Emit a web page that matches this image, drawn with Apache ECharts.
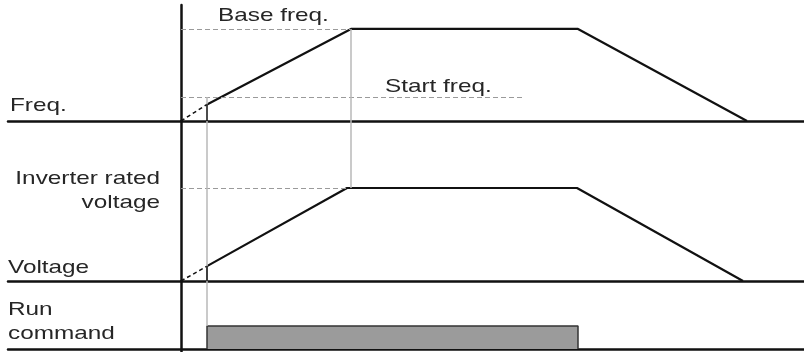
<!DOCTYPE html>
<html>
<head>
<meta charset="utf-8">
<script src="https://cdn.jsdelivr.net/npm/echarts@6/dist/echarts.min.js"></script>
<style>html,body{margin:0;padding:0;background:#fff}#c{width:804px;height:352px}</style>
</head>
<body>
<div id="c"></div>
<script>
// ---- data (time units along the shared horizontal axis) ----
const freqTime = [0, 26, 170, 397, 566];
const freqValue = [0, 18, 100, 100, 0];
const voltTime = [0, 26, 166, 396, 562];
const voltValue = [0, 16, 100, 100, 0];
const runStart = 26;
const runEnd = 397;
const runLevel = 1;
const baseFreqLevel = 100;
const baseFreqEnd = 169;
const startFreqLevel = 26;
const startFreqEnd = 342;
const ratedVoltLevel = 100;
const ratedVoltEnd = 166;
const labels = {
  freq: 'Freq.', base: 'Base freq.', start: 'Start freq.',
  rated1: 'Inverter rated', rated2: 'voltage', volt: 'Voltage',
  run1: 'Run', run2: 'command'
};

const pts = (t, v) => t.map((x, i) => [x, v[i]]);
const freqPts = pts(freqTime, freqValue);
const voltPts = pts(voltTime, voltValue);
const runPts = [[runStart, 0], [runStart, runLevel], [runEnd, runLevel], [runEnd, 0]];

const BLACK = '#111';
const GRAY = '#b8b8b8';
const dashStyle = { color: '#9a9a9a', width: 1, type: [5, 3] };
const grayStyle = { color: GRAY, width: 1.5, type: 'solid' };
const tickStyle = { color: BLACK, width: 1.5, type: 'solid' };

function seg(a, b, style) {
  return [{ coord: a, lineStyle: style }, { coord: b }];
}
function ml(data) {
  return { silent: true, symbol: ['none', 'none'], label: { show: false }, animation: false, data: data };
}

const xMin = -173, xMax = 623;
const grids = [
  { left: 8, right: 0, top: 5, height: 116 },
  { left: 8, right: 0, top: 121, height: 160 },
  { left: 8, right: 0, top: 281, height: 71 }
];
const yRanges = [[0, 126], [0, 172], [-0.13, 2.96]];

const axisLine = { show: true, onZero: true, lineStyle: { color: BLACK, width: 2.5 } };

const option = {
  animation: false,
  backgroundColor: '#fff',
  grid: grids,
  xAxis: grids.map((g, i) => ({
    type: 'value', gridIndex: i, min: xMin, max: xMax,
    axisLine: axisLine, axisTick: { show: false }, axisLabel: { show: false }, splitLine: { show: false }
  })),
  yAxis: yRanges.map((r, i) => ({
    type: 'value', gridIndex: i, min: r[0], max: r[1],
    axisLine: axisLine, axisTick: { show: false }, axisLabel: { show: false }, splitLine: { show: false }
  })),
  series: [
    // Frequency panel
    { type: 'line', xAxisIndex: 0, yAxisIndex: 0, data: freqPts.slice(0, 2), symbol: 'none',
      lineStyle: { color: BLACK, width: 1.5, type: [4, 3] }, z: 3 },
    { type: 'line', xAxisIndex: 0, yAxisIndex: 0, data: freqPts.slice(1), symbol: 'none',
      lineStyle: { color: BLACK, width: 2.2 }, z: 4,
      markLine: ml([
        seg([0, baseFreqLevel], [baseFreqEnd, baseFreqLevel], dashStyle),
        seg([0, startFreqLevel], [startFreqEnd, startFreqLevel], dashStyle),
        seg([freqTime[2], baseFreqLevel], [freqTime[2], 0], grayStyle),
        seg([runStart, startFreqLevel], [runStart, freqValue[1]], grayStyle),
        seg([runStart, 0], [runStart, freqValue[1]], tickStyle)
      ]) },
    // Voltage panel
    { type: 'line', xAxisIndex: 1, yAxisIndex: 1, data: voltPts.slice(0, 2), symbol: 'none',
      lineStyle: { color: BLACK, width: 1.5, type: [4, 3] }, z: 3 },
    { type: 'line', xAxisIndex: 1, yAxisIndex: 1, data: voltPts.slice(1), symbol: 'none',
      lineStyle: { color: BLACK, width: 2.2 }, z: 4,
      markLine: ml([
        seg([0, ratedVoltLevel], [ratedVoltEnd, ratedVoltLevel], dashStyle),
        seg([freqTime[2], yRanges[1][1]], [freqTime[2], ratedVoltLevel], grayStyle),
        seg([runStart, yRanges[1][1]], [runStart, 0], grayStyle),
        seg([runStart, 0], [runStart, voltValue[1]], tickStyle)
      ]) },
    // Run command panel
    { type: 'line', xAxisIndex: 2, yAxisIndex: 2, data: runPts, symbol: 'none',
      lineStyle: { color: '#333', width: 1.5 }, areaStyle: { color: '#9b9b9b', opacity: 1 }, z: 4,
      markLine: ml([
        seg([runStart, yRanges[2][1]], [runStart, runLevel], grayStyle)
      ]) }
  ],
  graphic: (function () {
    const font = '19px "Liberation Sans", Arial, sans-serif';
    const mk = (text, x, y, align) => ({
      type: 'text', x: x, y: y, scaleX: 1.28, silent: true, z: 10,
      style: { text: text, font: font, fill: '#262626', textAlign: align || 'left', textVerticalAlign: 'middle' }
    });
    return [
      mk(labels.freq, 10, 106),
      mk(labels.base, 218, 16),
      mk(labels.start, 385, 87),
      mk(labels.rated1, 160, 179, 'right'),
      mk(labels.rated2, 160, 203, 'right'),
      mk(labels.volt, 8, 268),
      mk(labels.run1, 8, 310),
      mk(labels.run2, 8, 334)
    ];
  })()
};

const chart = echarts.init(document.getElementById('c'), null, { renderer: 'canvas' });
chart.setOption(option);
</script>
</body>
</html>
